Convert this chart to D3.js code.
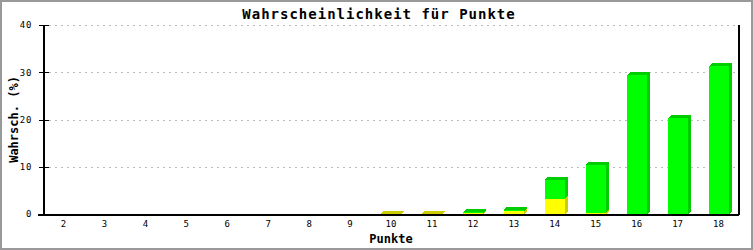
<!DOCTYPE html>
<html>
<head>
<meta charset="utf-8">
<script src="https://cdn.jsdelivr.net/npm/d3@7"></script>
<style>
  body { margin: 0; background: white; }
  svg { display: block; }
  text { font-family: "DejaVu Sans Mono", monospace; fill: black; }
</style>
</head>
<body>
<svg id="chart"></svg>
<script>
  // data
  let categories = ["2","3","4","5","6","7","8","9","10","11","12","13","14","15","16","17","18"]
  let yellowValues = [0,0,0,0,0,0,0,0,0.1,0.1,0.2,0.6,3.2,0.3,0,0,0]
  let greenValues  = [0,0,0,0,0,0,0,0,0,0,0.2,0.3,4.0,10.1,29.4,20.3,31.3]
  let yTicks = [0,10,20,30,40]
  let series = [
    { name: "yellow", values: yellowValues, front: "#ffff00", dark: "#cccc00" },
    { name: "green", values: greenValues, front: "#00ff00", dark: "#00cc00" }
  ]

  let width = 753, height = 250
  let margin = { top: 25, bottom: 36, left: 43, right: 14 }
  let depth = 3

  let svg = d3.select("#chart").attr("width", width).attr("height", height)
    .attr("shape-rendering", "crispEdges")

  // outer frame
  svg.append("rect")
    .attr("x", 1).attr("y", 1).attr("width", width - 2).attr("height", height - 2)
    .attr("fill", "white").attr("stroke", "#999").attr("stroke-width", 2)

  let x = d3.scaleBand().domain(categories)
    .range([margin.left, width - margin.right])
  let y = d3.scaleLinear().domain([0, 40])
    .range([height - margin.bottom, margin.top])

  // grid
  svg.append("g").selectAll("line")
    .data(yTicks.filter(d => d > 0))
    .join("line")
    .attr("x1", margin.left + 6).attr("x2", width - margin.right - 2)
    .attr("y1", d => y(d) + 0.5).attr("y2", d => y(d) + 0.5)
    .attr("stroke", "#bbb").attr("stroke-dasharray", "2,4")

  // stacked 3d bars
  let barW = 20
  categories.forEach((c, i) => {
    let x0 = Math.round(x(c) + (x.bandwidth() - barW) / 2)
    let base = 0
    series.forEach(s => {
      let v = s.values[i]
      if (v <= 0) return
      let yb = y(base), yt = y(base + v)
      let g = svg.append("g")
      g.append("rect").attr("x", x0).attr("y", yt)
        .attr("width", barW).attr("height", Math.max(0, yb - yt))
        .attr("fill", s.front)
      g.append("polygon")
        .attr("points", [[x0 + barW, yb], [x0 + barW + depth, yb - depth],
                         [x0 + barW + depth, yt - depth], [x0 + barW, yt]].join(" "))
        .attr("fill", s.dark)
      g.append("polygon")
        .attr("points", [[x0, yt], [x0 + depth, yt - depth],
                         [x0 + barW + depth, yt - depth], [x0 + barW, yt]].join(" "))
        .attr("fill", s.dark)
      base += v
    })
  })

  // axes
  let axisY = d3.axisLeft(y).tickValues(yTicks).tickSize(5).tickPadding(6)
  let gy = svg.append("g")
    .attr("transform", `translate(${margin.left + 0.5},0)`)
    .call(axisY)
  gy.select(".domain").remove()
  gy.selectAll(".tick line").attr("x2", 5).attr("x1", -5).attr("stroke-width", 1)
  gy.selectAll("text").style("font-size", "9px").style("letter-spacing", "1px")
  svg.append("line")
    .attr("x1", margin.left + 0.5).attr("x2", margin.left + 0.5)
    .attr("y1", y(40)).attr("y2", y(0) + 1)
    .attr("stroke", "black").attr("stroke-width", 2)

  let axisX = d3.axisBottom(x).tickSize(0).tickPadding(7)
  let gx = svg.append("g")
    .attr("transform", `translate(0,${y(0)})`)
    .call(axisX)
  gx.select(".domain").remove()
  gx.selectAll("text").style("font-size", "9px")
  svg.append("line")
    .attr("x1", margin.left - 5).attr("x2", width - margin.right)
    .attr("y1", y(0) + 0.5).attr("y2", y(0) + 0.5)
    .attr("stroke", "black").attr("stroke-width", 2)
  svg.append("line")
    .attr("x1", width - margin.right).attr("x2", width - margin.right)
    .attr("y1", y(40)).attr("y2", y(0) + 1)
    .attr("stroke", "black").attr("stroke-width", 2)

  // titles
  svg.append("text")
    .attr("x", 379).attr("y", 19)
    .attr("text-anchor", "middle")
    .style("font-size", "14px").style("font-weight", "bold").style("letter-spacing", "1px")
    .text("Wahrscheinlichkeit für Punkte")
  svg.append("text")
    .attr("x", (margin.left + width - margin.right) / 2).attr("y", 243)
    .attr("text-anchor", "middle")
    .style("font-size", "12px").style("font-weight", "bold")
    .text("Punkte")
  svg.append("text")
    .attr("transform", `translate(18,${(y(0) + y(40)) / 2}) rotate(-90)`)
    .attr("text-anchor", "middle")
    .style("font-size", "12px").style("font-weight", "bold")
    .text("Wahrsch. (%)")
</script>
</body>
</html>
